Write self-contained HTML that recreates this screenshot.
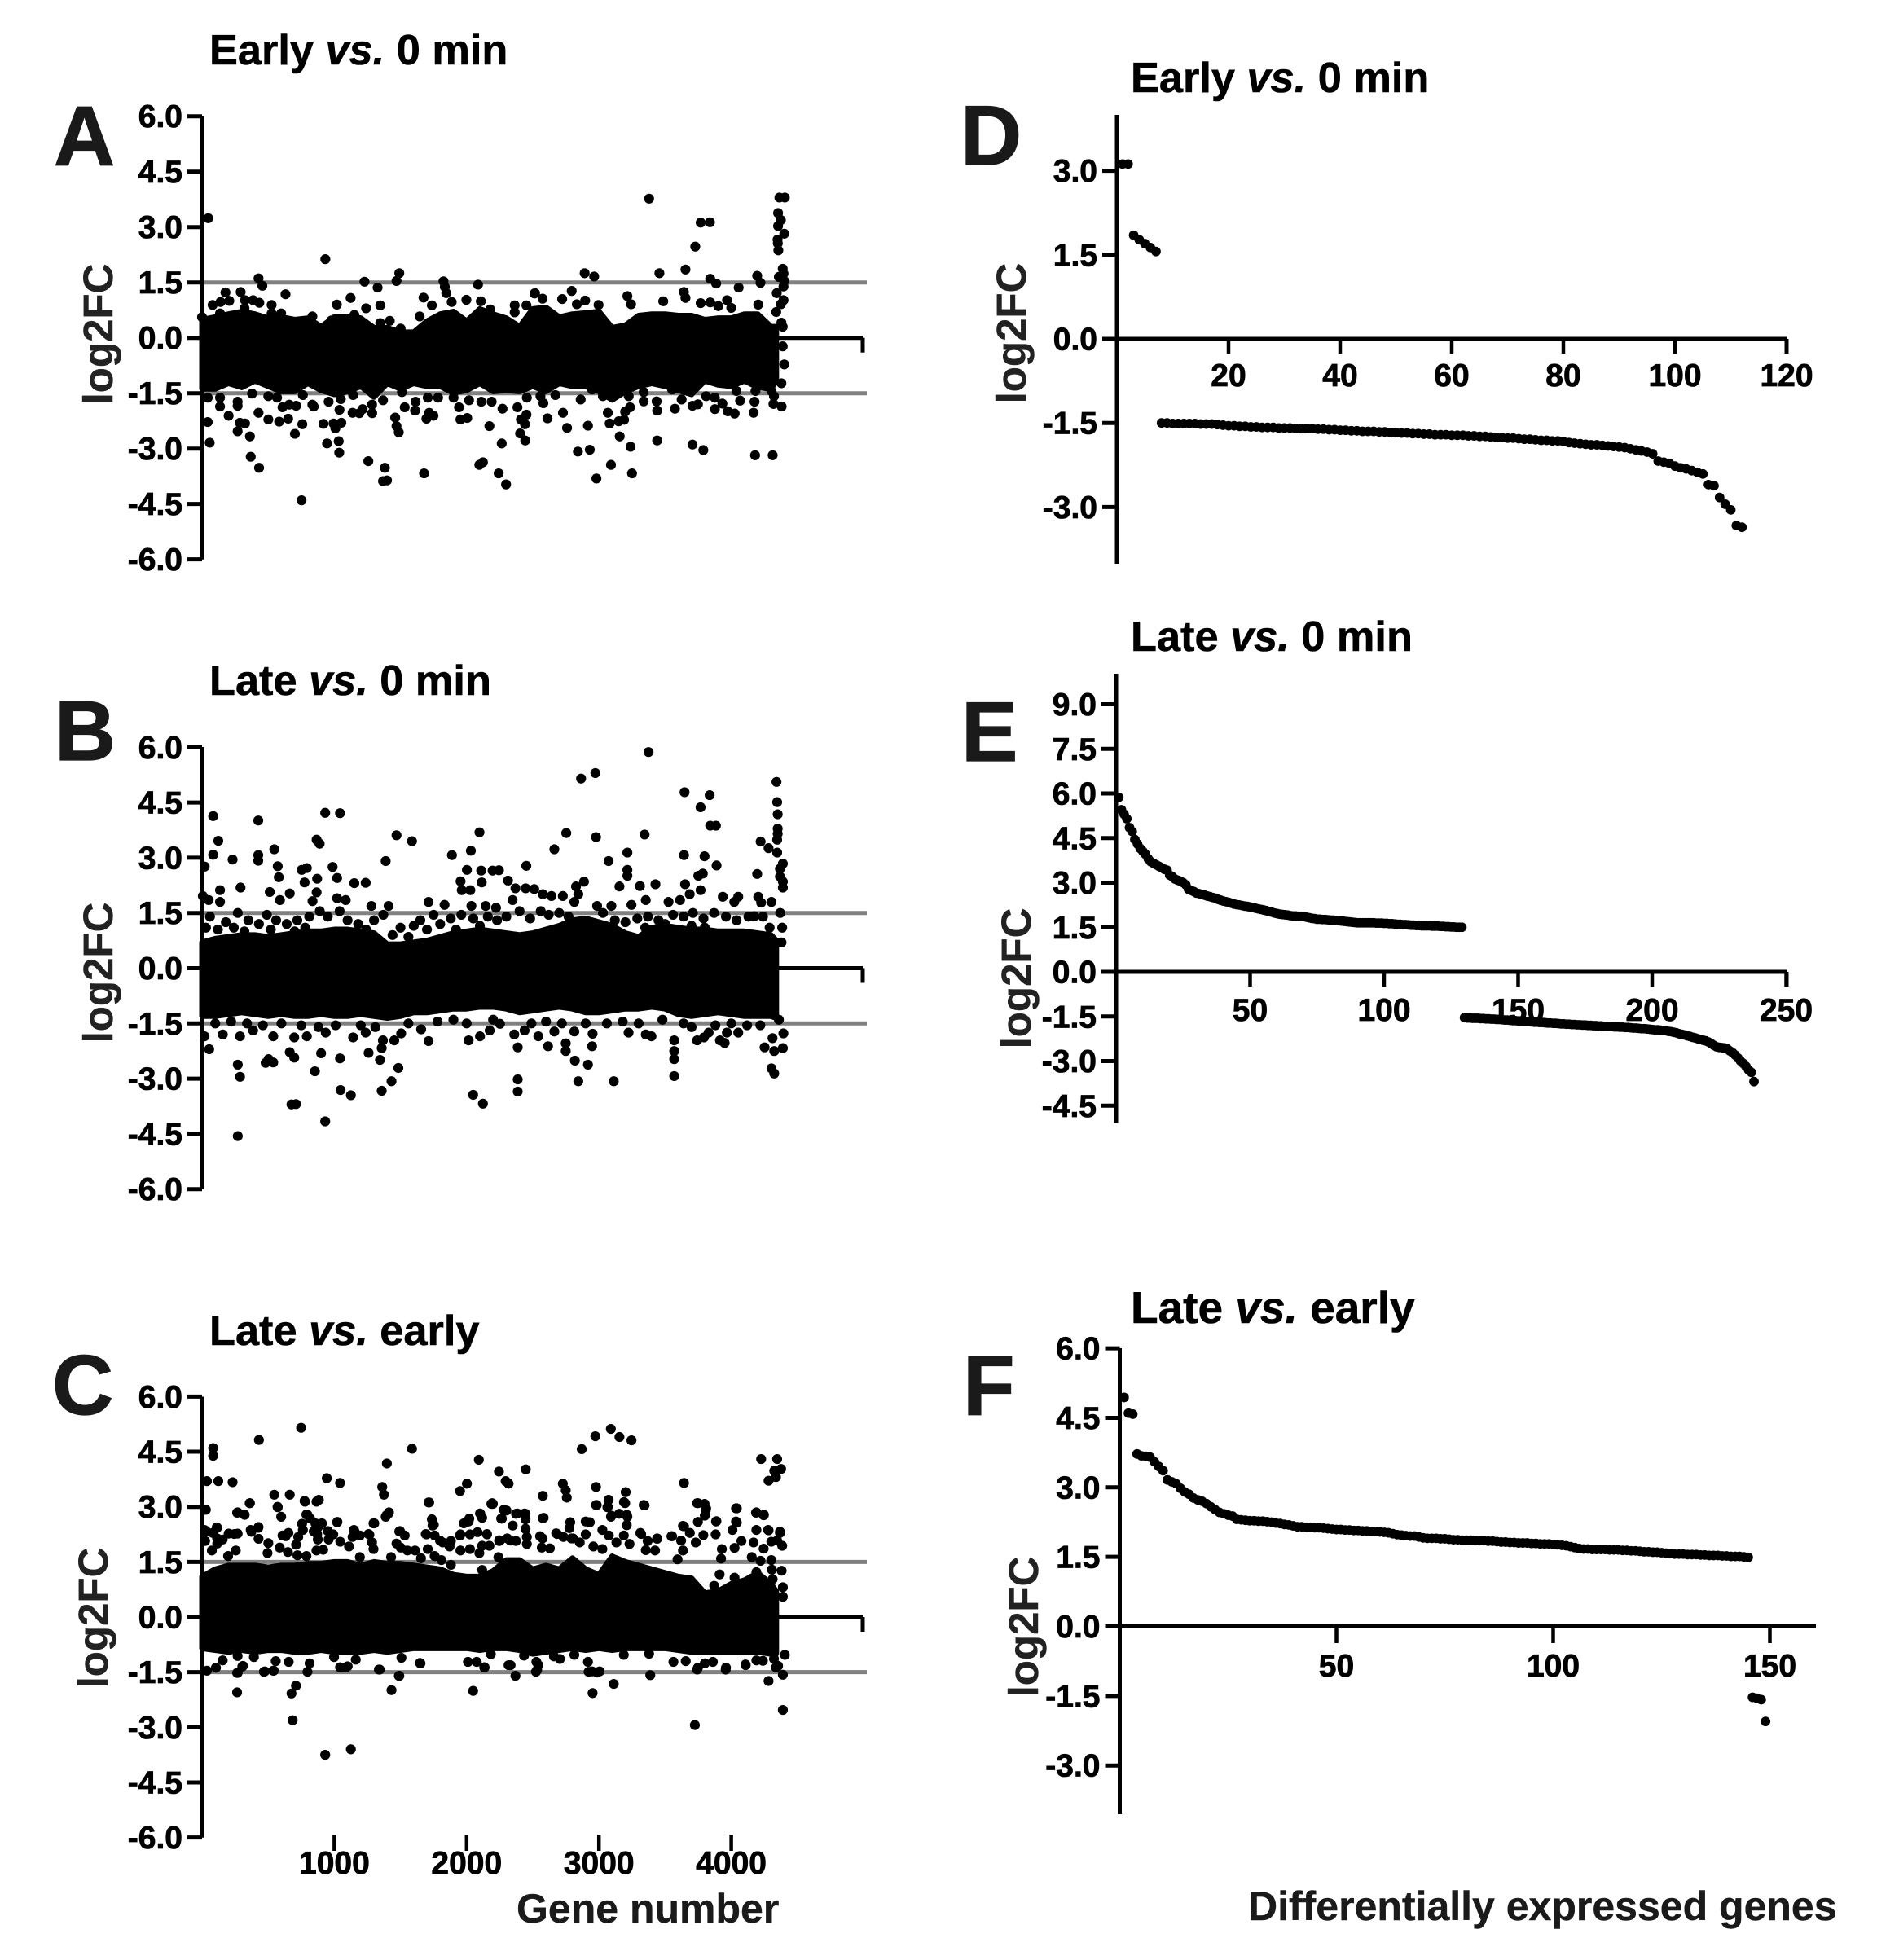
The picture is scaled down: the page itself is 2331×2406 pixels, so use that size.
<!DOCTYPE html>
<html lang="en">
<head>
<meta charset="utf-8">
<title>Differential expression log2FC panels</title>
<style>
html,body{margin:0;padding:0;background:#fff;}
svg{display:block;font-family:"Liberation Sans",Arial,sans-serif;font-weight:bold;}
.title{font-size:52.3px;fill:#000;stroke:#000;stroke-width:.6px;}
.letter{font-size:104px;fill:#1a1a1a;stroke:#1a1a1a;stroke-width:1.2px;}
.ylab{font-size:51px;fill:#222;stroke:#222;stroke-width:.4px;text-anchor:middle;}
.tick{font-size:39px;fill:#000;stroke:#000;stroke-width:.8px;}
.xlab{font-size:50px;fill:#1a1a1a;stroke:#1a1a1a;stroke-width:.4px;}
</style>
</head>
<body>
<svg id="figure" xmlns="http://www.w3.org/2000/svg" width="2331" height="2406" viewBox="0 0 2331 2406">
<rect width="2331" height="2406" fill="#fff"/>
<text class="title" x="257" y="79">Early <tspan font-style="italic">vs.</tspan> 0 min</text>
<text class="title" x="257" y="853">Late <tspan font-style="italic">vs.</tspan> 0 min</text>
<text class="title" x="257" y="1651">Late <tspan font-style="italic">vs.</tspan> early</text>
<text class="title" x="1388" y="113">Early <tspan font-style="italic">vs.</tspan> 0 min</text>
<text class="title" x="1388" y="799">Late <tspan font-style="italic">vs.</tspan> 0 min</text>
<text class="title" x="1388" y="1624" style="font-size:55px">Late <tspan font-style="italic">vs.</tspan> early</text>
<text class="letter" x="66" y="203">A</text>
<text class="letter" x="67" y="933">B</text>
<text class="letter" x="64" y="1736">C</text>
<text class="letter" x="1179" y="202">D</text>
<text class="letter" x="1180" y="934">E</text>
<text class="letter" x="1182" y="1737">F</text>
<text class="ylab" transform="translate(138,410) rotate(-90)">log2FC</text>
<text class="ylab" transform="translate(138,1194) rotate(-90)">log2FC</text>
<text class="ylab" transform="translate(132,1986) rotate(-90)">log2FC</text>
<text class="ylab" transform="translate(1259,409) rotate(-90)">log2FC</text>
<text class="ylab" transform="translate(1265,1201) rotate(-90)">log2FC</text>
<text class="ylab" transform="translate(1274,1997) rotate(-90)">log2FC</text>
<text class="xlab" x="634" y="2360">Gene number</text>
<text class="xlab" x="1532" y="2357">Differentially expressed genes</text>
</svg>
<script>
/* gene-number bins used for the overplotted dense band of panels A-C */
const bandGenes=[0,100,200,300,400,500,600,700,800,900,1000,1100,1200,1300,1400,1500,1600,1700,1800,1900,2000,2100,2200,2300,2400,2500,2600,2700,2800,2900,3000,3100,3200,3300,3400,3500,3600,3700,3800,3900,4000,4100,4200,4300,4340];

const bandTopA=[.49,.56,.64,.71,.64,.53,.56,.49,.53,.3,.56,.56,.53,.27,.27,.15,.15,.45,.64,.71,.45,.78,.64,.53,.3,.78,.82,.56,.64,.67,.71,.27,.34,.6,.64,.64,.6,.6,.49,.53,.53,.64,.64,.3,.3];
const bandBottomA=[-1.38,-1.38,-1.23,-1.34,-1.16,-1.31,-1.45,-1.45,-1.23,-1.42,-1.53,-1.45,-1.31,-1.6,-1.23,-1.38,-1.23,-1.31,-1.31,-1.49,-1.42,-1.23,-1.45,-1.42,-1.45,-1.31,-1.45,-1.23,-1.31,-1.31,-1.45,-1.68,-1.45,-1.31,-1.23,-1.31,-1.42,-1.53,-1.16,-1.27,-1.31,-1.16,-1.34,-1.38,-1.16];
const pointsA=[[47,3.24],[932,2.13],[427,1.61],[456,1.41],[177,1.23],[292,1.24],[631,1.18],[1228,1.52],[1327,1.36],[1470,1.54],[1491,1.75],[1825,1.53],[1835,1.38],[1846,1.21],[2086,1.44],[2513,1.2],[1123,1.08],[1019,.9],[1674,1.09],[1737,.88],[1347,.88],[1240,.8],[526,.89],[80,.89],[140,.97],[206,1.0],[325,1.02],[386,1.02],[433,.95],[1998,1.03],[1887,.97],[2107,.99],[2363,.88],[2452,.88],
[0,.56],[136,.66],[321,.8],[526,.66],[598,.66],[834,.58],[978,.47],[1152,.62],[1347,.4],[1419,.46],[1501,.25],[1645,.58],[2178,.77],[2363,.69],
[43,-2.28],[58,-2.84],[201,-2.11],[269,-2.53],[362,-2.67],[368,-3.22],[431,-3.52],[752,-4.4],[427,-2.03],[501,-2.21],[583,-2.27],[651,-2.19],[702,-2.6],[758,-2.34],[918,-2.33],[945,-2.86],[994,-2.32],[1008,-2.45],[1053,-2.3],[1033,-2.8],[1037,-3.11],[1257,-3.34],[1382,-3.52],[1368,-3.88],[1398,-3.86],[1460,-2.16],[1470,-2.39],[1487,-2.56],[1678,-3.67],[2096,-3.44],[2123,-3.37],[2172,-2.39],[2242,-3.67],[2265,-2.86],[2298,-3.97],[2404,-2.59],[2443,-2.78],[2441,-2.34],[2410,-2.21],[2452,-2.08],[1953,-2.21],[2004,-2.17],[1696,-2.19],[1717,-2.03],[1749,-2.11],[1610,-1.97],[1286,-2.04],[1214,-1.93],[1189,-2.04],[1138,-2.03],[1039,-1.95],[844,-1.86],[711,-1.84],[608,-1.88],[136,-1.86],[269,-1.84],[286,-2.3],[325,-2.32],
[43,-1.62],[136,-1.62],[269,-1.73],[378,-1.51],[501,-1.58],[567,-1.62],[659,-1.81],[762,-1.55],[834,-1.81],[957,-1.73],[1049,-1.66],[1142,-1.55],[1285,-1.81],[1368,-1.69],[1511,-1.47],[1532,-1.88],[1614,-1.73],[1706,-1.62],[1784,-1.62],[1901,-1.62],[1942,-1.88],[2018,-1.69],[2111,-1.73],[2189,-1.73],[2271,-1.92],[2384,-1.88],[2455,-1.62],
[2558,-1.58],[2671,-1.55],[2948,-1.4],[3030,-1.58],[3225,-1.58],[3338,-1.47],[3553,-1.4],[3687,-1.4],[3810,-1.58],[4039,-1.44],[4183,-1.44],[4303,-1.44],[4323,-1.58],
[3379,3.77],[3769,3.12],[3839,3.13],[3728,2.47],[2892,1.75],[2964,1.66],[3457,1.75],[3654,1.85],[3841,1.6],[3886,1.47],[4056,1.36],[4196,1.68],[4221,1.49],[2794,1.27],[2517,1.21],[2574,1.06],[2722,1.05],[2896,1.01],[3215,1.13],[3243,.91],[3642,1.24],[3654,1.08],[3486,.99],[3769,.94],[3841,.96],[3968,1.02],[3902,.86],[4000,.81],[4204,.9],[2833,.91],[2997,.89],
[4364,3.8],[4405,3.8],[4354,3.38],[4375,3.19],[4354,3.03],[4401,2.82],[4350,2.66],[4352,2.56],[4356,2.37],[4389,1.87],[4395,1.74],[4360,1.65],[4401,1.54],[4395,1.39],[4344,1.21],[4395,1.02],[4375,.91],[4340,.7],[4379,.41],[4389,.3],[4389,-.23],[4401,-.72],[4379,-1.23],[4381,-1.86],[4319,-1.79],
[2580,-1.77],[2611,-2.18],[2728,-2.03],[2759,-2.44],[2862,-1.67],[2917,-2.38],[2841,-3.08],[2931,-3.03],[2981,-3.81],[3091,-3.44],[3250,-3.67],[3157,-2.67],[3239,-2.95],[3067,-2.03],[3081,-2.32],[3149,-2.26],[3190,-2.22],[3198,-2],[3235,-1.88],[3338,-1.72],[3436,-1.72],[3440,-1.97],[3440,-2.78],[3574,-1.92],[3625,-1.67],[3707,-1.84],[3748,-1.8],[3707,-2.89],[3789,-3.04],[3876,-1.93],[3876,-1.62],[3933,-1.78],[3974,-1.99],[4026,-2.05],[4067,-1.7],[4176,-1.73],[4169,-2.03],[4180,-3.18],[4313,-3.18]];

const bandTopB=[.7,.8,.85,.9,.9,.85,.9,.95,1.0,1.0,1.05,1.05,1.0,.95,.65,.65,.7,.75,.85,.95,1.0,1.05,1.0,.95,.9,.95,1.05,1.15,1.3,1.35,1.25,1.15,.95,.85,1.1,1.15,1.1,1.05,1.05,1.0,1.0,1.0,.95,.9,.75];
const bandBottomB=[-1.3,-1.3,-1.25,-1.2,-1.25,-1.3,-1.25,-1.3,-1.3,-1.25,-1.3,-1.3,-1.25,-1.3,-1.35,-1.3,-1.2,-1.2,-1.15,-1.1,-1.1,-1.05,-1.05,-1.1,-1.2,-1.15,-1.1,-1.05,-1.1,-1.2,-1.2,-1.15,-1.1,-1.1,-1.05,-1.1,-1.25,-1.3,-1.25,-1.2,-1.25,-1.3,-1.3,-1.3,-1.35];
const pointsB=[[3375,5.87],[2865,5.15],[2973,5.3],[4342,5.06],[3647,4.78],[3837,4.7],[3768,4.37],[4347,4.51],[4351,4.18],[3841,3.87],[3884,3.87],[84,4.13],[425,4.01],[931,4.22],[1043,4.21],[1470,3.61],[1587,3.45],[2097,3.69],[2753,3.67],[2978,3.56],[3345,3.63],[123,3.46],[866,3.49],[889,3.38],[4222,3.44],[4282,3.26],[4351,3.79],[4351,3.65],[4347,3.49],[84,3.08],[231,2.95],[425,3.07],[425,2.92],[546,3.23],[572,2.77],[20,2.76],[1889,3.07],[2032,3.19],[2663,3.23],[3073,2.91],[3215,3.14],[3643,3.07],[3798,3.04],[3889,2.79],[1388,2.91],[987,2.75],[4347,3.14],[4390,2.84],[4368,2.7],[4368,2.49],[4390,2.35],[4390,2.19],[753,2.67],[792,2.72],[2002,2.67],[2110,2.65],[2196,2.65],[2244,2.66],[2451,2.78],[2313,2.38],[3215,2.67],[3215,2.51],[580,2.47],[775,2.33],[870,2.43],[866,2.06],[1021,2.45],[1151,2.31],[1237,2.32],[1954,2.36],[1963,2.12],[2028,2.12],[2114,2.33],[2887,2.35],[2827,2.22],[2844,2.01],[3155,2.22],[3310,2.23],[3427,2.28],[3751,2.51],[3785,2.57],[3651,2.28],[4196,2.56],[3768,2.12],[291,2.19],[136,2.12],[512,2.07],[663,2.03],[2369,2.17],
[6,1.96],[50,1.85],[136,1.8],[589,1.85],[835,1.82],[1021,1.9],[1086,1.85],[1280,1.69],[1410,1.69],[1712,1.8],[1833,1.72],[2036,1.69],[2144,1.69],[2222,1.64],[2347,1.85],[2446,2.17],[2511,2.15],[2576,2.01],[2641,1.96],[2727,1.96],[2814,1.8],[2986,1.69],[3094,1.69],[3246,1.72],[3354,1.85],[3526,1.8],[3613,1.85],[3686,2.01],[3936,1.94],[4023,1.8],[4053,1.94],[4204,1.94],[4226,1.78],[4304,1.8],[4174,1.41],
[60,1.4],[180,1.25],[270,1.5],[350,1.3],[430,1.2],[490,1.45],[560,1.3],[640,1.2],[720,1.3],[810,1.4],[890,1.55],[950,1.4],[1040,1.55],[1100,1.3],[1180,1.2],[1300,1.3],[1370,1.45],[1500,1.1],[1600,1.15],[1650,1.3],[1750,1.45],[1800,1.2],[1880,1.35],[1960,1.45],[2050,1.35],[2100,1.15],[2160,1.4],[2230,1.3],[2300,1.4],[2400,1.55],[2480,1.35],[2560,1.55],[2620,1.45],[2700,1.5],[2770,1.4],[3030,1.5],[3120,1.3],[3200,1.25],[3290,1.35],[3370,1.4],[3450,1.3],[3560,1.45],[3640,1.4],[3710,1.5],[3790,1.35],[3870,1.5],[3960,1.4],[4040,1.3],[4130,1.4],[4240,1.4],[4290,1.1],[4370,1.5],[4385,1.1],[4380,.7],
[30,1.1],[120,1.05],[240,1.1],[320,1.0],[520,1.05],[700,1.0],[780,1.1],[1240,1.05],[1440,.9],[1560,.85],[1700,1.05],[1920,1.05],[3350,1.1],[3500,1.2],[3700,1.15],[3800,1.1],
[54,-2.2],[270,-2.62],[287,-2.95],[270,-4.56],[481,-2.57],[538,-2.56],[503,-2.47],[663,-2.28],[697,-2.43],[676,-3.7],[710,-3.69],[853,-2.8],[900,-2.31],[931,-4.16],[1043,-2.45],[1047,-3.31],[1125,-3.45],[1259,-2.3],[1345,-2.49],[1358,-2.17],[1358,-3.33],[1432,-3.07],[1484,-2.71],[2015,-1.96],[2049,-3.44],[2123,-3.68],[2386,-2.15],[2386,-3.02],[2386,-3.35],[2615,-2.12],[2749,-2.04],[2749,-2.25],[2818,-2.51],[2917,-2.62],[2844,-3.07],[2948,-2.12],[3112,-3.07],[3569,-1.96],[3569,-2.25],[3569,-2.47],[3569,-2.93],[3742,-1.96],[3794,-1.88],[3950,-2.03],[4053,-1.75],[3967,-1.75],[4252,-2.15],[4312,-1.9],[4325,-2.25],[4390,-2.17],[4394,-1.77],[4304,-2.72],[4325,-2.86],
[19,-1.85],[157,-1.8],[287,-1.85],[386,-1.69],[538,-1.85],[697,-1.88],[792,-1.85],[935,-1.75],[1142,-1.88],[1237,-1.75],[1367,-1.96],[1453,-1.96],[1505,-1.77],[1656,-1.66],[1712,-1.98],[2101,-1.85],[2174,-1.69],[2252,-1.51],[2360,-1.8],[2438,-1.69],[2542,-1.85],[2663,-1.72],[2814,-1.72],[2952,-1.78],[3224,-1.75],[3354,-1.8],[3397,-1.85],[3829,-1.75],[3915,-1.96],
[100,-1.5],[220,-1.45],[340,-1.5],[460,-1.55],[600,-1.5],[750,-1.55],[880,-1.6],[1010,-1.55],[1200,-1.55],[1310,-1.6],[1560,-1.5],[1780,-1.45],[1900,-1.4],[2000,-1.5],[2200,-1.4],[2490,-1.5],[2600,-1.45],[2720,-1.5],[2900,-1.5],[3060,-1.5],[3180,-1.45],[3300,-1.5],[3480,-1.4],[3640,-1.5],[3700,-1.6],[3880,-1.55],[4000,-1.5],[4120,-1.55],[4220,-1.55],[4360,-1.4]];

const bandTopC=[1.1,1.3,1.4,1.4,1.4,1.35,1.4,1.4,1.45,1.45,1.5,1.5,1.4,1.5,1.45,1.45,1.4,1.35,1.3,1.15,1.1,1.1,1.25,1.55,1.55,1.3,1.4,1.3,1.6,1.3,1.15,1.65,1.5,1.4,1.3,1.2,1.1,1.05,.65,.7,.9,1.0,1.2,.9,.7];
const bandBottomC=[-.85,-.9,-.95,-.9,-.95,-.9,-.9,-.95,-.95,-.9,-.95,-.95,-.95,-.9,-.95,-.9,-.85,-.85,-.85,-.85,-.85,-.9,-.85,-.85,-.9,-1.0,-.95,-.9,-.85,-.9,-.85,-.9,-.85,-.85,-.85,-.85,-.9,-.95,-.95,-.95,-.95,-.95,-.95,-1.0,-1.0];
const pointsC=[[749,5.15],[430,4.82],[84,4.6],[84,4.39],[1587,4.58],[1397,4.18],[2092,4.28],[2244,3.96],[2295,3.7],[2317,3.63],[2447,4.02],[2870,4.57],[2973,4.92],[3090,5.12],[3155,4.9],[3246,4.81],[4226,4.3],[4347,4.3],[4325,3.98],[4377,4.03],[4338,3.81],[4282,3.71],[3643,3.65],
[37,3.7],[123,3.7],[231,3.67],[943,3.78],[1043,3.65],[1362,3.54],[1375,3.33],[546,3.33],[663,3.33],[360,3.1],[775,3.16],[883,3.19],[572,2.99],[19,2.92],[1712,3.12],[1950,3.43],[2002,3.63],[2187,3.08],[2295,2.9],[2576,3.3],[2727,3.63],[2749,3.45],[2757,3.25],[2978,3.54],[2978,3.05],[3073,3.19],[3064,2.99],[3202,3.4],[3189,3.13],[3345,3.04],[3742,3.1],[3798,3.08],[4036,2.96],[4187,2.84],[4247,2.78],[265,2.84],[322,2.78],[598,2.73],[797,2.78],[1388,2.73],[1410,2.82],[2101,2.82],[2015,2.6],[2382,2.82],[2438,2.82],[2576,2.69],[2900,2.6],[3094,2.76],[3211,2.78],[3807,2.9],[3885,2.6],[4036,2.6],[1021,2.58],[857,2.55],[114,2.43],[425,2.43],[373,2.32],[1302,2.55],[1742,2.49],
[1496,2.34],[1151,2.35],[19,2.37],[3643,2.47],[4282,2.36],[4368,2.32],[4347,2.08],[3548,2.2],[3440,2.14],[3319,2.26],[2792,2.14],[2684,2.26],[2555,2.2],[2330,2.08],[2252,2.08],[2153,2.26],[1950,2.22],[1799,2.08],[1691,2.26],[1259,2.26],[870,2.26],[632,2.2],[244,2.26],[114,2.14],
[29,2.92],[269,2.85],[321,2.79],[362,3.1],[571,3.0],[778,3.14],[865,3.14],[789,2.79],[817,2.68],[756,2.54],[111,2.44],[29,2.34],[80,2.29],[201,2.27],[269,2.27],[368,2.37],[427,2.45],[427,2.13],[23,2.07],[156,2.11],[115,2.0],[74,1.81],[255,1.81],[197,1.66],[501,2.01],[608,2.22],[653,2.29],[727,2.18],[762,2.37],[711,1.97],[587,1.89],[495,1.74],[649,1.77],[721,1.68],[789,1.66],[844,2.33],[906,2.55],[875,2.44],[1023,2.59],[951,2.34],[992,2.25],[875,2.11],[957,2.11],[1045,2.05],[1111,1.92],[1148,2.37],[1193,2.22],[1138,2.18],[1265,2.24],[1296,2.55],[1285,2.03],[1296,1.85],[1394,2.77],[1413,2.85],[1491,2.33],[1532,2.22],[1470,2.0],[1501,1.89],[1552,1.81],[1610,1.81],[1696,2.25],[1717,3.12],[1737,2.66],[1752,2.51],[1758,2.22],[1819,2.03],[1706,1.85],[1758,1.66],[1881,2.07],[1953,2.25],[1979,2.55],[2020,2.68],[2025,2.25],[2082,2.31],[2103,2.81],[2117,2.7],[2154,2.25],[2193,3.1],[2261,2.68],[2246,2.09],[2025,1.85],[1953,1.81],[2117,1.94],[2172,1.94],[2096,1.74],[1871,1.92],[2281,2.92],[865,1.81],[916,1.83],[1193,1.63],[1429,1.63],[1655,1.6],[1809,1.55],[1881,1.42],[1850,1.11],[2117,1.28],[2240,1.63],
[2198,3.08],[2301,2.9],[2266,2.68],[2373,2.81],[2348,2.49],[2445,2.81],[2445,2.66],[2445,2.4],[2582,2.7],[2455,2.18],[2455,1.99],[2373,2.07],[2307,2.14],[2246,2.07],[2574,2.14],[2568,1.89],[2629,1.87],[2677,2.28],[2732,2.18],[2783,2.58],[2777,2.42],[2804,2.14],[2855,2.03],[2931,2.58],[2900,2.25],[2958,1.92],[3026,2.37],[3075,2.22],[3026,1.85],[2983,3.05],[3067,3.0],[3091,2.73],[3153,2.81],[3215,2.73],[3210,2.5],[3198,3.1],[3338,3.05],[3188,2.22],[3132,2.03],[3231,1.99],[3313,2.29],[3368,2.07],[3440,2.13],[3354,1.82],[3424,1.81],[3553,2.2],[3621,2.08],[3635,2.48],[3687,2.29],[3748,3.1],[3810,2.96],[3800,2.76],[3748,2.59],[3888,2.61],[3789,2.23],[3882,2.25],[3732,2.03],[3635,1.81],[3594,1.57],[3929,1.85],[3923,1.59],[4042,2.96],[4042,2.57],[4009,2.37],[4077,2.07],[4025,1.88],[4155,1.63],[4190,2.85],[4245,2.77],[4190,2.37],[4279,2.37],[4368,2.29],[4169,2.03],[4303,2.05],[4385,1.94],[4245,1.86],[4221,1.53],[4303,1.55],[4307,1.29],[4381,1.26],[4313,1.03],[4390,.81],[4390,.55],[3912,1.16],[3871,.85],[4025,1.07],[4190,1.22],
[265,-2.05],[676,-2.08],[710,-1.87],[685,-2.81],[931,-3.75],[1125,-3.6],[1432,-1.99],[1488,-1.6],[2049,-2.01],[2952,-2.07],[3112,-1.82],[3388,-1.58],[3725,-2.94],[4282,-1.74],[4390,-2.53],[4390,-1.57],[4338,-1.37],[37,-1.46],[468,-1.49],[538,-1.46],[265,-1.52],[309,-1.33],[797,-1.49],[1043,-1.37],[1086,-1.37],[1337,-1.43],[1647,-1.25],[2136,-1.37],[2317,-1.31],[2369,-1.6],[2524,-1.49],[2542,-1.31],[2986,-1.51],[2922,-1.49],[3742,-1.43],[3958,-1.43],[4109,-1.31],[4239,-1.19],
[4405,-1.03],[4323,-1.14],[4354,-1.33],[4108,-1.29],[4190,-1.18],[3563,-1.22],[3656,-1.2],[3748,-1.38],[3800,-1.26],[3861,-1.22],[3960,-1.38],[2948,-1.48],[3005,-1.48],[2917,-1.22],[2814,-1.03],[2705,-1.14],[2660,-1.07],[2533,-1.44],[2527,-1.22],[2332,-1.31],[2434,-1.05],[3188,-1.03],[3379,-1.0],
[105,-1.38],[156,-1.18],[269,-1.52],[304,-1.35],[474,-1.48],[542,-1.46],[655,-1.22],[813,-1.26],[1101,-1.34],[998,-1.09],[1162,-1.16],[1343,-1.43],[1491,-1.6],[1651,-1.26],[2010,-1.22],[2076,-1.22],[2133,-1.37],[2183,-1.01],[1507,-1.11],[557,-1.2],[392,-1.09],[269,-1.06]];

/* sorted differentially-expressed gene values, panels D-F; rank = position + offset */
const rankedD1=[3.12,3.12,1.85,1.77,1.7,1.63,1.56];
const rankedD2=[-1.5,-1.5,-1.51,-1.51,-1.51,-1.51,-1.51,-1.52,-1.52,-1.52,-1.53,-1.54,-1.55,-1.55,-1.56,-1.56,-1.57,-1.57,-1.58,-1.58,-1.58,-1.59,-1.59,-1.59,-1.6,-1.6,-1.6,-1.6,-1.61,-1.61,-1.62,-1.62,-1.63,-1.63,-1.64,-1.64,-1.65,-1.65,-1.65,-1.66,-1.66,-1.67,-1.67,-1.68,-1.68,-1.69,-1.69,-1.7,-1.7,-1.71,-1.71,-1.71,-1.72,-1.72,-1.72,-1.73,-1.73,-1.74,-1.74,-1.75,-1.76,-1.76,-1.77,-1.77,-1.78,-1.79,-1.79,-1.8,-1.81,-1.81,-1.82,-1.82,-1.83,-1.85,-1.86,-1.87,-1.88,-1.89,-1.89,-1.9,-1.91,-1.92,-1.93,-1.94,-1.96,-1.98,-2.0,-2.02,-2.05,-2.18,-2.2,-2.22,-2.27,-2.3,-2.32,-2.35,-2.38,-2.41,-2.6,-2.62,-2.83,-2.95,-3.05,-3.33,-3.36];
const rankedE1=[5.87,5.45,5.3,5.15,4.85,4.72,4.45,4.3,4.15,4.05,3.95,3.8,3.7,3.65,3.6,3.55,3.5,3.45,3.42,3.25,3.2,3.12,3.08,3.05,3.0,2.93,2.78,2.74,2.7,2.65,2.63,2.6,2.58,2.55,2.53,2.5,2.48,2.44,2.41,2.38,2.36,2.34,2.31,2.28,2.26,2.25,2.23,2.21,2.2,2.18,2.16,2.14,2.12,2.1,2.08,2.06,2.03,2.01,1.98,1.96,1.94,1.93,1.92,1.91,1.89,1.88,1.88,1.87,1.87,1.86,1.84,1.82,1.8,1.79,1.77,1.77,1.76,1.76,1.75,1.74,1.74,1.73,1.72,1.71,1.7,1.69,1.68,1.67,1.66,1.65,1.65,1.65,1.65,1.65,1.65,1.65,1.64,1.64,1.64,1.63,1.63,1.62,1.62,1.61,1.6,1.6,1.59,1.59,1.58,1.57,1.57,1.56,1.56,1.55,1.55,1.55,1.55,1.54,1.54,1.54,1.53,1.53,1.52,1.52,1.51,1.51,1.5,1.5,1.5];
const rankedE2=[-1.54,-1.55,-1.55,-1.56,-1.56,-1.56,-1.57,-1.57,-1.58,-1.58,-1.59,-1.59,-1.6,-1.6,-1.61,-1.62,-1.62,-1.63,-1.64,-1.64,-1.65,-1.65,-1.66,-1.67,-1.67,-1.68,-1.69,-1.69,-1.7,-1.7,-1.71,-1.72,-1.72,-1.73,-1.73,-1.74,-1.75,-1.75,-1.76,-1.76,-1.77,-1.77,-1.78,-1.78,-1.79,-1.79,-1.8,-1.8,-1.81,-1.81,-1.82,-1.82,-1.83,-1.83,-1.84,-1.84,-1.85,-1.85,-1.86,-1.86,-1.87,-1.87,-1.88,-1.89,-1.89,-1.9,-1.91,-1.91,-1.92,-1.93,-1.94,-1.95,-1.95,-1.96,-1.97,-1.98,-2.0,-2.01,-2.03,-2.05,-2.08,-2.1,-2.12,-2.15,-2.17,-2.2,-2.22,-2.25,-2.27,-2.3,-2.32,-2.36,-2.41,-2.47,-2.52,-2.54,-2.55,-2.56,-2.59,-2.66,-2.72,-2.8,-2.9,-3.0,-3.08,-3.18,-3.3,-3.38,-3.69];
const rankedF1=[4.94,4.6,4.58,3.72,3.68,3.67,3.65,3.55,3.45,3.36,3.16,3.12,3.08,2.98,2.9,2.85,2.77,2.73,2.7,2.65,2.58,2.52,2.46,2.43,2.4,2.38,2.31,2.3,2.29,2.28,2.28,2.27,2.27,2.26,2.25,2.23,2.22,2.2,2.19,2.17,2.15,2.15,2.14,2.14,2.13,2.13,2.12,2.11,2.1,2.09,2.09,2.08,2.08,2.07,2.07,2.06,2.06,2.05,2.05,2.04,2.03,2.02,2.0,1.98,1.97,1.96,1.95,1.95,1.93,1.91,1.9,1.9,1.9,1.89,1.89,1.88,1.87,1.87,1.86,1.86,1.86,1.85,1.85,1.85,1.84,1.84,1.83,1.82,1.82,1.81,1.81,1.8,1.8,1.8,1.79,1.79,1.78,1.78,1.78,1.77,1.76,1.75,1.74,1.72,1.7,1.68,1.67,1.67,1.66,1.66,1.66,1.66,1.65,1.65,1.65,1.64,1.64,1.63,1.63,1.62,1.61,1.61,1.6,1.6,1.59,1.58,1.57,1.56,1.56,1.56,1.55,1.55,1.55,1.54,1.54,1.53,1.53,1.53,1.52,1.52,1.51,1.51,1.51,1.5,1.49,-1.53,-1.55,-1.58,-2.05];

/* tick labels */
const geneTicks=[1000,2000,3000,4000];
const geneYTicks=[6,4.5,3,1.5,0,-1.5,-3,-4.5,-6];
const thresholds=[1.5,-1.5];
const dXTicks=[20,40,60,80,100,120];
const dYTicks=[3,1.5,0,-1.5,-3];
const eXTicks=[50,100,150,200,250];
const eYTicks=[9,7.5,6,4.5,3,1.5,0,-1.5,-3,-4.5];
const fXTicks=[50,100,150];
const fYTicks=[6,4.5,3,1.5,0,-1.5,-3];

const NS='http://www.w3.org/2000/svg';
const fig=document.getElementById('figure');
function mk(tag,attrs,parent){
  const el=document.createElementNS(NS,tag);
  for(const k in attrs)el.setAttribute(k,attrs[k]);
  parent.appendChild(el);
  return el;
}
function xScale(p,v){return p.x0+v*p.xu;}
function yScale(p,v){return p.y0-v*p.yu;}

function drawAxes(p,g){
  const yAxis=mk('line',{x1:p.x0,x2:p.x0,y1:p.top,y2:p.bottom,stroke:'#000','stroke-width':5},g);
  
  
  p.yTicks.forEach(function(v){
    const t=mk('line',{x1:p.x0-18,x2:p.x0,y1:yScale(p,v),y2:yScale(p,v),stroke:'#000','stroke-width':5},g);
    
    
    const l=mk('text',{x:p.x0-p.labGap,y:yScale(p,v)+13.5,'text-anchor':'end','class':'tick'},g);
    
    
    l.textContent=v.toFixed(1);
  });
  const xAxis=mk('line',{x1:p.x0,x2:p.xEnd,y1:p.y0,y2:p.y0,stroke:'#000','stroke-width':5},g);
  
  
  if(p.endTick){
    const e=mk('line',{x1:p.xEnd,x2:p.xEnd,y1:p.y0,y2:p.y0+18,stroke:'#000','stroke-width':5},g);
    
    
  }
}
function drawXTicks(p,g){
  p.xTicks.forEach(function(v){
    const x=xScale(p,v);
    const t=mk('line',{x1:x,x2:x,y1:p.tickY1,y2:p.tickY2,stroke:'#000','stroke-width':4.5},g);
    
    
    const l=mk('text',{x:x,y:p.labY,'text-anchor':'middle','class':'tick'},g);
    
    
    l.textContent=String(v);
  });
}
function drawThresholds(p,g){
  thresholds.forEach(function(v){
    const t=mk('line',{x1:p.x0,x2:1064,y1:yScale(p,v),y2:yScale(p,v),stroke:'#808080','stroke-width':5},g);
    
    
  });
}
function drawBand(p,tops,bottoms,g){
  let d='';
  bandGenes.forEach(function(b,i){d+=(i?'L':'M')+xScale(p,b)+' '+yScale(p,tops[i]);});
  for(let i=bandGenes.length-1;i>=0;i--){d+='L'+xScale(p,bandGenes[i])+' '+yScale(p,bottoms[i]);}
  const band=mk('path',{d:d+'Z',fill:'#000',stroke:'#000','stroke-width':7,'stroke-linejoin':'round'},g);
  
  
}
function drawPoint(p,gx,val,g){
  const c=mk('circle',{cx:xScale(p,gx),cy:yScale(p,val),r:p.r,fill:'#000'},g);
  
  
}

const scatterPanels=[
 {id:'a',x0:248,xu:.1624,y0:414.7,yu:45.33,top:142.6,bottom:686.8,xEnd:1059,endTick:true,labGap:24,yTicks:geneYTicks,xTicks:[],r:6.1,pts:pointsA,tops:bandTopA,bots:bandBottomA},
 {id:'b',x0:248,xu:.1624,y0:1188.5,yu:45.2,top:917,bottom:1460,xEnd:1059,endTick:true,labGap:24,yTicks:geneYTicks,xTicks:[],r:6.1,pts:pointsB,tops:bandTopB,bots:bandBottomB},
 {id:'c',x0:248,xu:.1624,y0:1985,yu:45.1,top:1714.5,bottom:2255.7,xEnd:1059,endTick:true,labGap:24,yTicks:geneYTicks,xTicks:geneTicks,tickY1:2252,tickY2:2272,labY:2300,r:6.1,pts:pointsC,tops:bandTopC,bots:bandBottomC}
];
scatterPanels.forEach(function(p){
  const g=mk('g',{},fig);
  
  
  drawThresholds(p,g);
  drawAxes(p,g);
  drawXTicks(p,g);
  drawBand(p,p.tops,p.bots,g);
  p.pts.forEach(function(pt){drawPoint(p,pt[0],pt[1],g);});
});

const rankPanels=[
 {id:'d',x0:1371,xu:6.85,y0:416,yu:68.8,top:141,bottom:692,xEnd:2193,endTick:true,labGap:24,yTicks:dYTicks,xTicks:dXTicks,tickY1:416,tickY2:434,labY:474,r:5.9,runs:[[rankedD1,1],[rankedD2,8]]},
 {id:'e',x0:1370,xu:3.29,y0:1193,yu:36.5,top:827,bottom:1378.5,xEnd:2193,endTick:true,labGap:24,yTicks:eYTicks,xTicks:eXTicks,tickY1:1193,tickY2:1211,labY:1253,r:5.9,runs:[[rankedE1,1],[rankedE2,130]]},
 {id:'f',x0:1374.5,xu:5.32,y0:1996.5,yu:56.9,top:1655,bottom:2227,xEnd:2229,endTick:false,labGap:24,yTicks:fYTicks,xTicks:fXTicks,tickY1:1996.5,tickY2:2017,labY:2058,r:5.9,runs:[[rankedF1,1]]}
];
rankPanels.forEach(function(p){
  const g=mk('g',{},fig);
  
  
  drawAxes(p,g);
  drawXTicks(p,g);
  p.runs.forEach(function(run){
    run[0].forEach(function(v,i){drawPoint(p,run[1]+i,v,g);});
  });
});
</script>
</body>
</html>
